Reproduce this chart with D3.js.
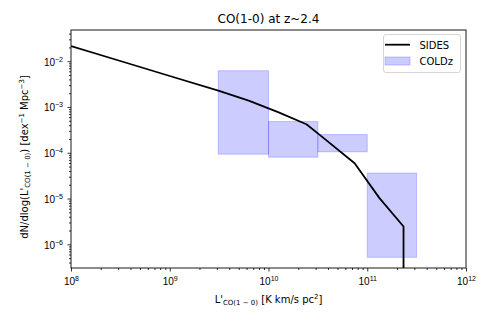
<!DOCTYPE html>
<html><head><meta charset="utf-8">
<script src="https://cdn.jsdelivr.net/npm/d3@7"></script>
<style>body{margin:0;background:#fff}svg{display:block;font-family:"DejaVu Sans",sans-serif}</style>
</head><body>
<script>
// SIDES luminosity function (L'CO in K km/s pc^2, phi in dex^-1 Mpc^-3)
const sidesL = [1e8, 3.16e8, 1e9, 3.16e9, 6.3e9, 1.25e10, 2.42e10, 3.3e10, 7.45e10, 1.33e11, 2.33e11, 2.33e11];
const sidesPhi = [2.13e-2, 1.01e-2, 4.75e-3, 2.25e-3, 1.38e-3, 7.7e-4, 4.2e-4, 2.46e-4, 5.9e-5, 1.02e-5, 2.45e-6, 1e-8];
// COLDz boxes
const coldzLmin = [3.1e9, 1e10, 3.16e10, 1e11];
const coldzLmax = [1e10, 3.16e10, 1e11, 3.16e11];
const coldzPhiMin = [9.3e-5, 8.0e-5, 1.05e-4, 5.2e-7];
const coldzPhiMax = [6.2e-3, 4.8e-4, 2.5e-4, 3.6e-5];
const xTickExp = [8, 9, 10, 11, 12];
const yTickExp = [-6, -5, -4, -3, -2];
const legendLabels = ["SIDES", "COLDz"];
const titleText = "CO(1-0) at z~2.4";

const W = 491, H = 327;
const m = {l: 71, r: 466, t: 30, b: 268};
const svg = d3.select("body").append("svg").attr("width", W).attr("height", H);

const x = d3.scaleLog().domain([1e8, 1e12]).range([m.l, m.r]);
const y = d3.scaleLog().domain([3.04e-7, 0.048]).range([m.b, m.t]);

const clip = svg.append("clipPath").attr("id", "c").append("rect")
  .attr("x", m.l).attr("y", m.t).attr("width", m.r - m.l).attr("height", m.b - m.t);
const g = svg.append("g").attr("clip-path", "url(#c)");

g.selectAll("rect.box").data(coldzLmin).join("rect").attr("class", "box")
  .attr("x", (d, i) => x(coldzLmin[i]))
  .attr("width", (d, i) => x(coldzLmax[i]) - x(coldzLmin[i]))
  .attr("y", (d, i) => y(coldzPhiMax[i]))
  .attr("height", (d, i) => y(coldzPhiMin[i]) - y(coldzPhiMax[i]))
  .attr("fill", "rgba(0,0,255,0.2)").attr("stroke", "rgba(0,0,255,0.2)").attr("stroke-width", 1);

const line = d3.line().x((d, i) => x(sidesL[i])).y((d, i) => y(sidesPhi[i]));
g.append("path").datum(sidesL).attr("d", line).attr("fill", "none")
  .attr("stroke", "#000").attr("stroke-width", 1.8).attr("stroke-linejoin", "round");

// minor ticks
function minors(lo, hi) { const r = []; for (let e = lo; e < hi; e++) for (let k = 2; k < 10; k++) r.push(k * Math.pow(10, e)); return r; }
const xMinor = minors(8, 12);
const yMinor = minors(-7, -1).filter(v => v >= 3.04e-7 && v <= 0.048);

svg.append("g").attr("transform", `translate(0,${m.b})`)
  .call(d3.axisBottom(x).tickValues(xMinor).tickSize(2).tickFormat(""))
  .call(s => s.select(".domain").remove());
svg.append("g").attr("transform", `translate(${m.l},0)`)
  .call(d3.axisLeft(y).tickValues(yMinor).tickSize(2).tickFormat(""))
  .call(s => s.select(".domain").remove());

const xa = svg.append("g").attr("transform", `translate(0,${m.b})`)
  .call(d3.axisBottom(x).tickValues(xTickExp.map(e => Math.pow(10, e))).tickSize(3.5).tickPadding(4).tickFormat(""));
xa.select(".domain").remove();
xa.selectAll(".tick").append("text").attr("y", 17).attr("text-anchor", "middle")
  .attr("fill", "#000").attr("font-size", 10)
  .each(function(d, i) {
    const t = d3.select(this);
    t.append("tspan").text("10");
    t.append("tspan").attr("dy", -4).attr("font-size", 7).text(xTickExp[i]);
  });

const ya = svg.append("g").attr("transform", `translate(${m.l},0)`)
  .call(d3.axisLeft(y).tickValues(yTickExp.map(e => Math.pow(10, e))).tickSize(3.5).tickFormat(""));
ya.select(".domain").remove();
ya.selectAll(".tick").append("text").attr("x", -8).attr("y", 4).attr("text-anchor", "end")
  .attr("fill", "#000").attr("font-size", 10)
  .each(function(d, i) {
    const t = d3.select(this);
    t.append("tspan").text("10");
    t.append("tspan").attr("dy", -4).attr("font-size", 7).text("\u2212" + Math.abs(yTickExp[i]));
  });
svg.selectAll(".tick line").attr("stroke", "#000").attr("stroke-width", 0.8);

svg.append("rect").attr("x", m.l).attr("y", m.t).attr("width", m.r - m.l).attr("height", m.b - m.t)
  .attr("fill", "none").attr("stroke", "#000").attr("stroke-width", 0.9);

// title
svg.append("text").attr("x", (m.l + m.r) / 2).attr("y", 22.5).attr("text-anchor", "middle")
  .attr("font-size", 12).text(titleText);

// x label
const xl = svg.append("text").attr("x", (m.l + m.r) / 2).attr("y", 303).attr("text-anchor", "middle").attr("font-size", 10);
xl.append("tspan").text("L'");
xl.append("tspan").attr("font-size", 7).attr("dy", 2).text("CO(1 \u2212 0)");
xl.append("tspan").attr("dy", -2).text(" [K km/s pc");
xl.append("tspan").attr("font-size", 7).attr("dy", -4).text("2");
xl.append("tspan").attr("dy", 4).text("]");

// y label
const yl = svg.append("text").attr("transform", "translate(28,157) rotate(-90)").attr("text-anchor", "middle").attr("font-size", 10);
yl.append("tspan").text("dN/dlog(L'");
yl.append("tspan").attr("font-size", 7).attr("dy", 2).text("CO(1 \u2212 0)");
yl.append("tspan").attr("dy", -2).text(") [dex");
yl.append("tspan").attr("font-size", 7).attr("dy", -4).text("\u22121");
yl.append("tspan").attr("dy", 4).text(" Mpc");
yl.append("tspan").attr("font-size", 7).attr("dy", -4).text("\u22123");
yl.append("tspan").attr("dy", 4).text("]");

// legend
const lg = svg.append("g");
lg.append("rect").attr("x", 383.5).attr("y", 34.5).attr("width", 77).attr("height", 38).attr("rx", 2.5)
  .attr("fill", "rgba(255,255,255,0.8)").attr("stroke", "#d0d0d0").attr("stroke-width", 0.9);
lg.append("line").attr("x1", 385).attr("x2", 410).attr("y1", 44.7).attr("y2", 44.7).attr("stroke", "#000").attr("stroke-width", 1.8);
lg.append("rect").attr("x", 385).attr("y", 57).attr("width", 25).attr("height", 8)
  .attr("fill", "rgba(0,0,255,0.2)").attr("stroke", "rgba(0,0,255,0.2)");
lg.selectAll("text.l").data(legendLabels).join("text").attr("class", "l")
  .attr("x", 419.5).attr("y", (d, i) => 48.5 + i * 16.5).attr("font-size", 10).text(d => d);
</script>
</body></html>
